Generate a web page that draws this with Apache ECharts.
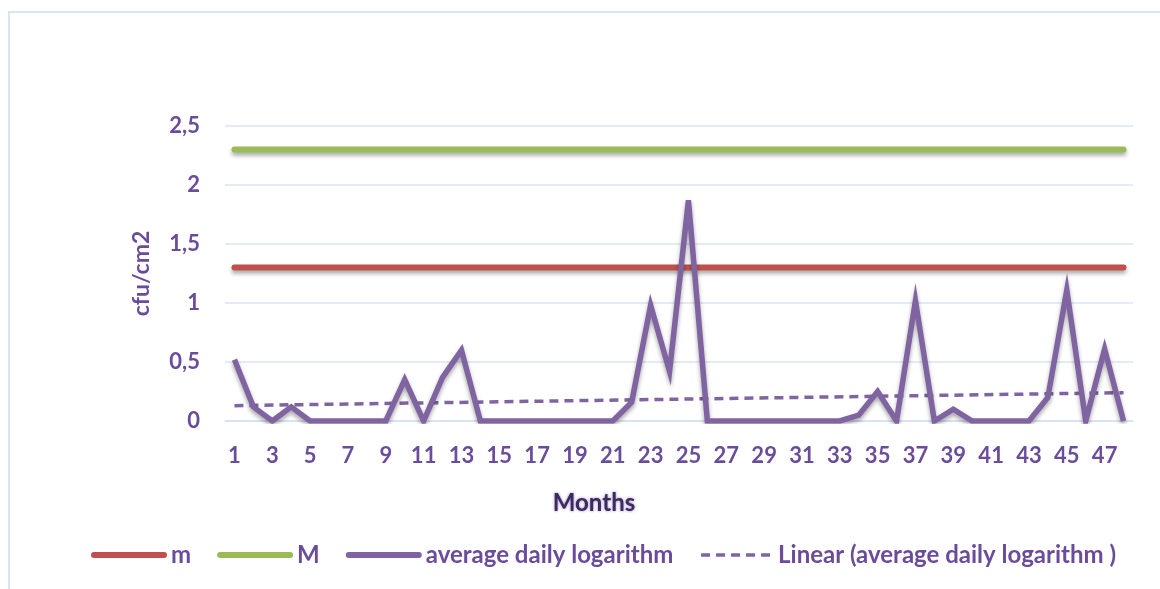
<!DOCTYPE html>
<html>
<head>
<meta charset="utf-8">
<script src="https://cdn.jsdelivr.net/npm/echarts@6/dist/echarts.min.js"></script>
<style>
  html, body { margin: 0; padding: 0; background: #fff; }
  #chart { width: 1160px; height: 589px; }
</style>
</head>
<body>
<div id="chart"></div>
<script>
// months 1..48
const months = [];
for (let i = 1; i <= 48; i++) months.push(String(i));

// average daily logarithm
const avgLog = [
  0.52, 0.12, 0, 0.12, 0, 0, 0, 0, 0, 0.35,
  0, 0.37, 0.6, 0, 0, 0, 0, 0, 0, 0,
  0, 0.16, 0.98, 0.42, 1.87, 0, 0, 0, 0, 0,
  0, 0, 0, 0.05, 0.25, 0, 1.02, 0, 0.1, 0,
  0, 0, 0, 0.2, 1.11, 0, 0.61, 0
];

// limits (first month, last month)
const mLimit = [1.3, 1.3];
const MLimit = [2.3, 2.3];
// trend line ends (month 1, month 48)
const trendEnds = [0.13, 0.24];

const yTicks = [0, 0.5, 1, 1.5, 2, 2.5];

const textColor = "#6b4c9a";
const font = "Lato, 'Open Sans', sans-serif";
const first = months[0];
const last = months[months.length - 1];

const chart = echarts.init(document.getElementById("chart"));

const lineShadow = {
  shadowColor: "rgba(0,0,0,0.35)",
  shadowBlur: 4,
  shadowOffsetY: 3,
};

chart.setOption({
  animation: false,
  textStyle: { fontFamily: font },
  grid: { left: 225, right: 27, top: 126, bottom: 168 },
  legend: {
    bottom: 17,
    left: 86,
    itemWidth: 70,
    itemHeight: 14,
    itemGap: 26,
    textStyle: { color: textColor, fontSize: 24, fontFamily: font, fontWeight: "bold", padding: [0, 0, 0, 2] },
    data: [
      { name: "m", itemStyle: { opacity: 0 }, lineStyle: { width: 6, cap: "round", color: "#c0504d" } },
      { name: "M", itemStyle: { opacity: 0 }, lineStyle: { width: 6, cap: "round", color: "#9bbb59" } },
      { name: "average daily logarithm", itemStyle: { opacity: 0 }, lineStyle: { width: 6, cap: "round", color: "#8064a2" } },
      { name: "Linear (average daily logarithm )", itemStyle: { opacity: 0 }, lineStyle: { width: 3.5, color: "#8064a2", type: [9, 6] } },
    ],
  },
  graphic: [
    {
      type: "rect",
      shape: { x: 9, y: 12, width: 1300, height: 800 },
      style: { fill: "none", stroke: "#dae5f4", lineWidth: 2 },
      silent: true,
    },
    {
      type: "text",
      x: 594,
      y: 503,
      style: {
        text: "Months",
        font: "bold 24px " + font,
        fill: "#3d2b5c",
        align: "center",
        verticalAlign: "middle",
        textShadowColor: "#9b7fc7",
        textShadowBlur: 3,
      },
    },
  ],
  xAxis: {
    type: "category",
    data: months,
    boundaryGap: true,
    axisLine: { lineStyle: { color: "#d5e1f2", width: 1.5 } },
    axisTick: { interval: 0, length: 7, lineStyle: { color: "#d5e1f2", width: 1.5 } },
    axisLabel: {
      interval: 1,
      margin: 24,
      color: textColor,
      fontSize: 22,
      fontWeight: "bold",
      fontFamily: font,
    },
  },
  yAxis: {
    type: "value",
    min: yTicks[0],
    max: yTicks[yTicks.length - 1],
    interval: 0.5,
    name: "cfu/cm2",
    nameLocation: "middle",
    nameGap: 72,
    nameTextStyle: { color: textColor, fontSize: 23, fontWeight: "bold", fontFamily: font },
    axisLine: { show: false },
    axisTick: { show: false },
    axisLabel: {
      margin: 25,
      color: textColor,
      fontSize: 22,
      fontWeight: "bold",
      fontFamily: font,
      formatter: (v) => String(v).replace(".", ","),
    },
    splitLine: { lineStyle: { color: "#d9e4f3", width: 1.5 } },
  },
  series: [
    {
      name: "m",
      type: "line",
      symbol: "none",
      data: [[first, mLimit[0]], [last, mLimit[1]]],
      lineStyle: Object.assign({ color: "#c0504d", width: 6, cap: "round" }, lineShadow),
      itemStyle: { color: "#c0504d" },
      z: 3,
    },
    {
      name: "M",
      type: "line",
      symbol: "none",
      data: [[first, MLimit[0]], [last, MLimit[1]]],
      lineStyle: Object.assign({ color: "#9bbb59", width: 6, cap: "round" }, lineShadow),
      itemStyle: { color: "#9bbb59" },
      z: 3,
    },
    {
      name: "average daily logarithm",
      type: "line",
      symbol: "none",
      data: avgLog,
      lineStyle: Object.assign({ color: "#8064a2", width: 5.5, join: "miter" }, lineShadow),
      itemStyle: { color: "#8064a2" },
      z: 4,
    },
    {
      name: "Linear (average daily logarithm )",
      type: "line",
      symbol: "none",
      data: [[first, trendEnds[0]], [last, trendEnds[1]]],
      lineStyle: { color: "#8064a2", width: 3.5, type: [9, 6] },
      itemStyle: { color: "#8064a2" },
      z: 2,
    },
  ],
});
</script>
</body>
</html>
